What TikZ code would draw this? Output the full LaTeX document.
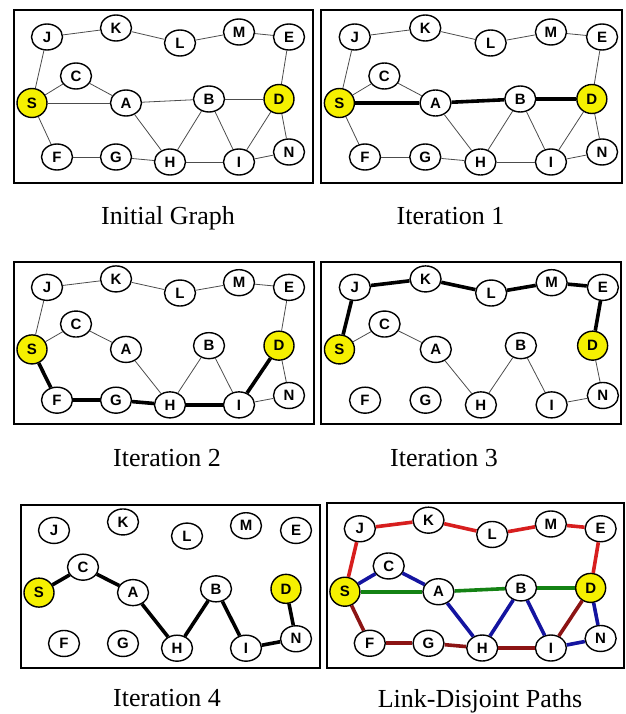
\documentclass[tikz,border=0pt]{standalone}
\usepackage{fontspec}
\setmainfont{Liberation Serif}
\newfontfamily\lblfont{Liberation Sans}
\usetikzlibrary{shapes.geometric}
\definecolor{pred}{RGB}{215,30,30}
\definecolor{pgreen}{RGB}{20,130,20}
\definecolor{pblue}{RGB}{20,20,160}
\definecolor{pmaroon}{RGB}{140,20,20}
\definecolor{pyellow}{RGB}{245,240,0}
\tikzset{
  nd/.style={ellipse, draw=black, line width=1.4pt, fill=white, minimum width=31pt, minimum height=26pt, inner sep=0pt, font=\lblfont\bfseries\fontsize{15}{15}\selectfont},
  srcnd/.style={nd, fill=pyellow, minimum width=30pt, minimum height=29pt},
  thinedge/.style={draw=black!70, line width=0.8pt},
  thickedge/.style={draw=black, line width=3.6pt},
  coledge/.style={line width=3.6pt},
  frame/.style={draw=black, line width=2pt},
  caption/.style={anchor=base, font=\fontsize{26}{30}\selectfont, inner sep=0pt}
}
\newcommand{\mknodes}[1]{%
  \node[nd] (#1J) at (33,27) {J};
  \node[nd] (#1K) at (102,18) {K};
  \node[nd] (#1L) at (166,33) {L};
  \node[nd] (#1M) at (225,22) {M};
  \node[nd] (#1E) at (275,27) {E};
  \node[nd] (#1C) at (62,66) {C};
  \node[srcnd] (#1S) at (18,93) {S};
  \node[nd] (#1A) at (112,93) {A};
  \node[nd] (#1B) at (195,89) {B};
  \node[srcnd] (#1D) at (265,89) {D};
  \node[nd] (#1F) at (43,147) {F};
  \node[nd] (#1G) at (102,147) {G};
  \node[nd] (#1H) at (156,152) {H};
  \node[nd] (#1I) at (225,152) {I};
  \node[nd] (#1N) at (275,142) {N};
}
\begin{document}
\begin{tikzpicture}[x=1pt,y=-1pt]
\useasboundingbox (0,0) rectangle (625,714);
% frames
\draw[frame] (14,10) rectangle (313,183);
\draw[frame] (321,10) rectangle (622,183);
\draw[frame] (14,262) rectangle (314,424);
\draw[frame] (321,262) rectangle (621,424);
\draw[frame] (21,505) rectangle (320,668);
\draw[frame] (327,503) rectangle (624,668);
% nodes
\begin{scope}[shift={(14,10)}]\mknodes{a}\end{scope}
\begin{scope}[shift={(321,10)}, xscale=1.022]\mknodes{b}\end{scope}
\begin{scope}[shift={(14,262)}, yscale=0.94]\mknodes{c}\end{scope}
\begin{scope}[shift={(321,262)}, xscale=1.025, yscale=0.94]\mknodes{d}\end{scope}
\begin{scope}[shift={(21,505)}, yscale=0.942]\mknodes{e}\end{scope}
\begin{scope}[shift={(327,503)}, xscale=0.995, yscale=0.954]\mknodes{f}\end{scope}
% panel 1
\foreach \u/\v in {J/K,K/L,L/M,M/E,E/D,J/S,S/C,C/A,S/A,A/B,B/D,S/F,F/G,G/H,A/H,H/B,H/I,B/I,I/D,D/N,I/N}
  \draw[thinedge] (a\u) -- (a\v);
% panel 2
\foreach \u/\v in {J/K,K/L,L/M,M/E,E/D,J/S,S/C,C/A,S/F,F/G,G/H,A/H,H/B,H/I,B/I,I/D,D/N,I/N}
  \draw[thinedge] (b\u) -- (b\v);
\foreach \u/\v in {S/A,A/B,B/D}
  \draw[thickedge] (b\u) -- (b\v);
% panel 3
\foreach \u/\v in {J/K,K/L,L/M,M/E,E/D,J/S,S/C,C/A,A/H,H/B,B/I,D/N,I/N}
  \draw[thinedge] (c\u) -- (c\v);
\foreach \u/\v in {S/F,F/G,G/H,H/I,I/D}
  \draw[thickedge] (c\u) -- (c\v);
% panel 4
\foreach \u/\v in {S/C,C/A,A/H,H/B,B/I,D/N,I/N}
  \draw[thinedge] (d\u) -- (d\v);
\foreach \u/\v in {S/J,J/K,K/L,L/M,M/E,E/D}
  \draw[thickedge] (d\u) -- (d\v);
% panel 5
\foreach \u/\v in {S/C,C/A,A/H,H/B,B/I,I/N,N/D}
  \draw[thickedge] (e\u) -- (e\v);
% panel 6
\foreach \u/\v in {S/J,J/K,K/L,L/M,M/E,E/D}
  \draw[coledge, draw=pred] (f\u) -- (f\v);
\foreach \u/\v in {S/C,C/A,A/H,H/B,B/I,I/N,N/D}
  \draw[coledge, draw=pblue] (f\u) -- (f\v);
\foreach \u/\v in {S/A,A/B,B/D}
  \draw[coledge, draw=pgreen] (f\u) -- (f\v);
\foreach \u/\v in {S/F,F/G,G/H,H/I,I/D}
  \draw[coledge, draw=pmaroon] (f\u) -- (f\v);
% captions
\node[caption] (cap1) at (168,224) {Initial Graph};
\node[caption] (cap2) at (450.5,224) {Iteration 1};
\node[caption] (cap3) at (167,466) {Iteration 2};
\node[caption] (cap4) at (444,466) {Iteration 3};
\node[caption] (cap5) at (167,706) {Iteration 4};
\node[caption] (cap6) at (480,707) {Link-Disjoint Paths};
\end{tikzpicture}
\end{document}
